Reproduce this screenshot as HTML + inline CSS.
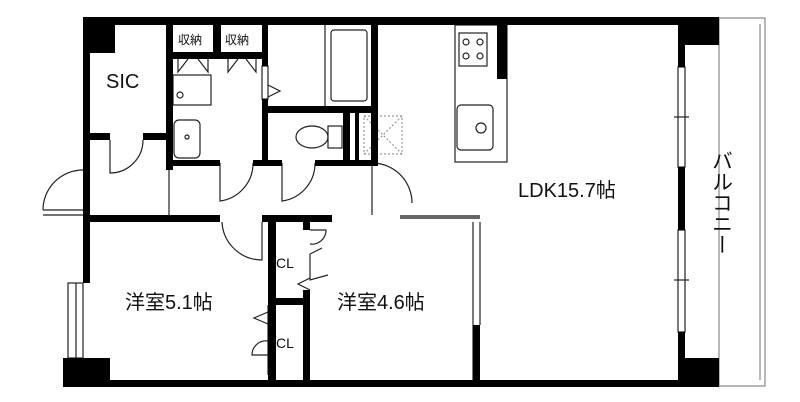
<!DOCTYPE html>
<html><head><meta charset="utf-8"><style>
html,body{margin:0;padding:0;background:#fff;width:800px;height:402px;overflow:hidden}
text{font-family:"Liberation Sans","Noto Sans CJK JP",sans-serif;fill:#111}
</style></head><body>
<svg width="800" height="402" viewBox="0 0 800 402" xmlns="http://www.w3.org/2000/svg">
<g fill="none" stroke="#222" stroke-width="1.2">
<rect x="719" y="18" width="46" height="368" stroke="#888"/>
<line x1="760" y1="24" x2="760" y2="380" stroke="#888"/>
<rect x="678" y="67" width="7" height="100" fill="#fff"/>
<rect x="678" y="230" width="7" height="102" fill="#fff"/>
<line x1="674" y1="117" x2="689" y2="117"/><line x1="674" y1="280" x2="689" y2="280"/>
<rect x="455" y="25" width="52" height="137"/>
<rect x="459" y="33" width="28" height="33"/>
<circle cx="466" cy="42" r="3"/><circle cx="480" cy="42" r="3"/><circle cx="466" cy="56" r="3"/><circle cx="480" cy="56" r="3"/>
<rect x="457" y="105" width="36" height="45" rx="4"/>
<circle cx="481" cy="128" r="5"/>
<rect x="331" y="30" width="36" height="71" rx="3"/>
<line x1="325" y1="25" x2="325" y2="106"/>
<ellipse cx="312" cy="137" rx="16" ry="11"/>
<rect x="328" y="126" width="14" height="22"/>
<rect x="364" y="116" width="38" height="38" stroke-dasharray="2 2" stroke="#999"/>
<line x1="364" y1="116" x2="402" y2="154" stroke-dasharray="2 2" stroke="#999"/>
<line x1="402" y1="116" x2="364" y2="154" stroke-dasharray="2 2" stroke="#999"/>
<rect x="173" y="75" width="38" height="30"/>
<circle cx="180" cy="95" r="3"/>
<rect x="174" y="120" width="26" height="38" rx="5"/>
<circle cx="187" cy="137" r="2"/>
<path d="M178 59 v13 l10-13 M208 59 v13 l-10-13 M228 59 v13 l10-13 M256 59 v13 l-10-13"/>
<rect x="262" y="66" width="6" height="33"/>
<path d="M268 85 l12 6 l-12 6"/>
<path d="M110 140 v33 a33 33 0 0 0 33 -33"/>
<path d="M220 163 v38 a38 38 0 0 0 33 -38"/>
<path d="M282 163 v38 a38 38 0 0 0 33 -38"/>
<path d="M83 170 a40 40 0 0 0 -40 40"/><line x1="43" y1="210" x2="83" y2="210"/>
<path d="M372 163 a40 40 0 0 1 40 40"/><line x1="372" y1="163" x2="372" y2="215"/>
<line x1="169" y1="170" x2="169" y2="215"/>
<path d="M262 222 v38 a40 40 0 0 1 -40 -38"/>
<path d="M310 230 h16 a14 14 0 0 1 -16 14"/>
<path d="M310 278 l-12 6 l12 6 M310 254 l12 -6 M310 254 v26 l18 -5"/>
<path d="M268 312 l-14 6 l14 6"/>
<path d="M268 355 h-16 a14 14 0 0 1 16 -14"/>
<line x1="268" y1="305" x2="268" y2="375"/>
<rect x="68" y="283" width="15" height="75"/>
<line x1="76" y1="283" x2="76" y2="358"/>
<line x1="473" y1="222" x2="473" y2="380"/>
<line x1="480" y1="222" x2="480" y2="325"/>
<line x1="83" y1="215" x2="43" y2="215"/>
</g>
<g fill="#000">
<rect x="83" y="17" width="602" height="8"/>
<rect x="83" y="17" width="7" height="266"/>
<rect x="83" y="17" width="32" height="36"/>
<rect x="678" y="17" width="41" height="28"/>
<rect x="678" y="17" width="7" height="50"/>
<rect x="678" y="167" width="7" height="63"/>
<rect x="678" y="332" width="7" height="55"/>
<rect x="678" y="358" width="41" height="29"/>
<rect x="63" y="358" width="47" height="29"/>
<rect x="63" y="380" width="622" height="7"/>
<rect x="166" y="17" width="7" height="153"/>
<rect x="83" y="133" width="27" height="7"/><rect x="143" y="133" width="30" height="7"/>
<rect x="166" y="52" width="102" height="7"/>
<rect x="213" y="17" width="8" height="42"/>
<rect x="262" y="17" width="6" height="49"/><rect x="262" y="99" width="6" height="64"/>
<rect x="166" y="160" width="54" height="6"/><rect x="253" y="160" width="29" height="6"/><rect x="315" y="160" width="57" height="6"/>
<rect x="268" y="106" width="110" height="7"/>
<rect x="371" y="17" width="7" height="149"/>
<rect x="343" y="113" width="7" height="50"/>
<rect x="355" y="113" width="4" height="50"/>
<rect x="497" y="25" width="10" height="54"/>
<rect x="83" y="215" width="137" height="7"/>
<rect x="262" y="215" width="70" height="7"/>
<rect x="268" y="215" width="8" height="172"/>
<rect x="276" y="298" width="34" height="7"/>
<rect x="303" y="222" width="7" height="8"/>
<rect x="303" y="290" width="7" height="97"/>
<rect x="400" y="215" width="80" height="4" fill="#666"/>
<rect x="473" y="325" width="7" height="60"/>
</g>
<text x="106" y="88" font-size="20">SIC</text>
<text x="178" y="44" font-size="12">収納</text>
<text x="225" y="44" font-size="12">収納</text>
<text x="518" y="197" font-size="20">LDK15.7帖</text>
<text x="125" y="309" font-size="20">洋室5.1帖</text>
<text x="337" y="309" font-size="20">洋室4.6帖</text>
<text x="276" y="268" font-size="14">CL</text>
<text x="276" y="348" font-size="14">CL</text>
<text x="721" y="150" font-size="21" writing-mode="tb" style="writing-mode:vertical-rl">バルコニー</text>
</svg>
</body></html>
